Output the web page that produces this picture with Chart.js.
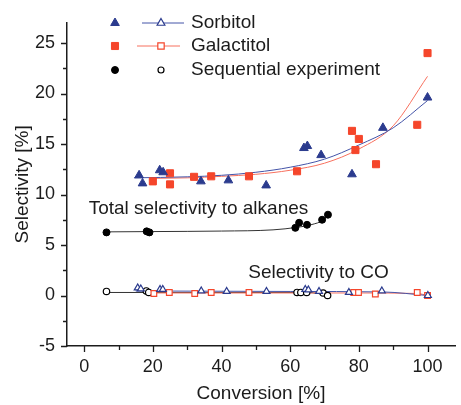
<!DOCTYPE html>
<html>
<head>
<meta charset="utf-8">
<script src="https://cdn.jsdelivr.net/npm/chart.js@4/dist/chart.umd.min.js"></script>
<style>
  body { margin: 0; background: #fff; }
  canvas { display: block; }
</style>
</head>
<body>
<canvas id="sel-chart" width="461" height="405"></canvas>
<script>
// alkanes selectivity (filled markers)
const sorbX = [16, 17, 22, 23, 34, 42, 53, 64, 65, 69, 78, 87, 100];
const sorbY = [11.9, 11.1, 12.4, 12.2, 11.3, 11.4, 10.9, 14.6, 14.8, 13.9, 12.0, 16.6, 19.6];
const galX = [20, 25, 25, 32, 37, 48, 62, 78, 79, 80, 85, 97, 100];
const galY = [11.3, 11.0, 12.1, 11.75, 11.8, 11.8, 12.3, 16.3, 14.4, 15.5, 13.0, 16.9, 24.0];
const seqX = [6.5, 18.2, 19.0, 61.5, 62.6, 64.9, 69.3, 71.0];
const seqY = [6.25, 6.35, 6.25, 6.7, 7.2, 7.0, 7.5, 8.0];

// CO selectivity (open markers)
const sorbCoX = [15.6, 16.5, 22.1, 22.9, 34.1, 41.5, 53.1, 64.4, 65.3, 68.4, 77.1, 86.7, 100.1];
const sorbCoY = [0.75, 0.65, 0.6, 0.6, 0.45, 0.4, 0.4, 0.6, 0.55, 0.4, 0.3, 0.45, 0.0];
const galCoX = [20.3, 24.8, 32.2, 37.0, 48.0, 78.5, 79.9, 84.8, 97.0, 100.0];
const galCoY = [0.2, 0.3, 0.2, 0.3, 0.3, 0.3, 0.3, 0.15, 0.3, 0.0];
const seqCoX = [6.5, 18.1, 18.8, 62.0, 63.1, 64.8, 69.6, 70.9];
const seqCoY = [0.4, 0.45, 0.3, 0.3, 0.3, 0.3, 0.25, 0.0];

// fit curves
const sorbFitX = [14.5, 30, 40, 50, 60, 70, 80, 90, 100];
const sorbFitY = [11.65, 11.75, 11.9, 12.2, 12.7, 13.5, 14.9, 16.6, 19.3];
const galFitX = [20, 30, 40, 50, 60, 70, 80, 90, 100];
const galFitY = [11.6, 11.65, 11.8, 12.0, 12.4, 13.1, 14.5, 16.8, 21.7];
const seqFitX = [6.5, 20, 40, 55, 62, 66, 70, 71.1];
const seqFitY = [6.3, 6.33, 6.38, 6.5, 6.75, 7.0, 7.55, 8.0];
const sorbCoFitX = [15, 60, 87, 100];
const sorbCoFitY = [0.45, 0.4, 0.35, 0.0];
const galCoFitX = [20, 80, 97, 100];
const galCoFitY = [0.25, 0.25, 0.2, 0.0];
const seqCoFitX = [6.5, 65, 71];
const seqCoFitY = [0.3, 0.3, 0.05];

const xMajor = [0, 20, 40, 60, 80, 100];
const xMinor = [10, 30, 50, 70, 90];
const yMajor = [-5, 0, 5, 10, 15, 20, 25];
const yMinor = [-2.5, 2.5, 7.5, 12.5, 17.5, 22.5];

const legendLabels = ["Sorbitol", "Galactitol", "Sequential experiment"];
const notes = ["Total selectivity to alkanes", "Selectivity to CO"];

const BLUE = '#2b3b8e';
const RED = '#f5462b';
const BLUE_LINE = '#4454a8';
const RED_LINE = '#f7705e';
const INK = '#1c1c1c';
const FONT = "'Liberation Sans', Arial, sans-serif";

const pts = (xs, ys) => xs.map((x, i) => ({ x: x, y: ys[i] }));

function markers(label, xs, ys, style, r, fill, stroke, bw) {
    return {
        label: label, data: pts(xs, ys), showLine: false, order: 1,
        pointStyle: style, pointRadius: r, pointBackgroundColor: fill,
        pointBorderColor: stroke, pointBorderWidth: bw
    };
}
function curve(xs, ys, color) {
    return {
        data: pts(xs, ys), showLine: true, order: 2, pointRadius: 0,
        borderColor: color, borderWidth: 1, cubicInterpolationMode: 'monotone'
    };
}

const extras = {
    id: 'extras',
    afterDraw(chart) {
        const ctx = chart.ctx;
        const xs = chart.scales.x, ys = chart.scales.y;
        const area = chart.chartArea;
        ctx.save();
        // tick marks, outward
        ctx.strokeStyle = INK;
        ctx.lineWidth = 1.3;
        ctx.beginPath();
        xMajor.concat(xMinor).forEach(v => {
            const p = Math.round(xs.getPixelForValue(v)) + 0.5;
            const len = xMajor.includes(v) ? 6 : 4;
            ctx.moveTo(p, area.bottom); ctx.lineTo(p, area.bottom + len);
        });
        yMajor.concat(yMinor).forEach(v => {
            const p = Math.round(ys.getPixelForValue(v)) + 0.5;
            const len = yMajor.includes(v) ? 6 : 4;
            ctx.moveTo(area.left, p); ctx.lineTo(area.left - len, p);
        });
        ctx.stroke();

        // annotations
        ctx.fillStyle = INK;
        ctx.font = '19px ' + FONT;
        ctx.textBaseline = 'middle';
        ctx.textAlign = 'left';
        ctx.fillText(notes[0], xs.getPixelForValue(1.3), ys.getPixelForValue(8.55));
        ctx.fillText(notes[1], xs.getPixelForValue(47.8), ys.getPixelForValue(2.3));

        // legend
        const draw = Chart.helpers.drawPoint;
        const rows = [
            { y: 23, style: 'triangle', color: BLUE, line: BLUE_LINE, r: 5, ro: 4.5, l0: 142, l1: 184 },
            { y: 46, style: 'rect', color: RED, line: RED_LINE, r: 5, ro: 4.5, l0: 137, l1: 180 },
            { y: 70, style: 'circle', color: '#000', line: null, r: 3.5, ro: 3, l0: 0, l1: 0 }
        ];
        rows.forEach((row, i) => {
            if (row.line) {
                ctx.strokeStyle = row.line;
                ctx.lineWidth = 1;
                ctx.beginPath();
                ctx.moveTo(row.l0, row.y); ctx.lineTo(row.l1, row.y);
                ctx.stroke();
            }
            ctx.fillStyle = row.color;
            ctx.strokeStyle = row.color;
            ctx.lineWidth = 1;
            draw(ctx, { pointStyle: row.style, radius: row.r, rotation: 0, borderWidth: 1 }, 115, row.y);
            ctx.fillStyle = '#fff';
            ctx.lineWidth = 1.2;
            draw(ctx, { pointStyle: row.style, radius: row.ro, rotation: 0, borderWidth: 1.2 }, 161, row.y);
            ctx.fillStyle = INK;
            ctx.font = '19px ' + FONT;
            ctx.textAlign = 'left';
            ctx.textBaseline = 'middle';
            ctx.fillText(legendLabels[i], 191, row.y);
        });
        ctx.restore();
    }
};

new Chart(document.getElementById('sel-chart').getContext('2d'), {
    type: 'scatter',
    data: {
        datasets: [
            markers('Sorbitol', sorbX, sorbY, 'triangle', 5, BLUE, BLUE, 1),
            markers('Galactitol', galX, galY, 'rect', 5, RED, RED, 1),
            markers('Sequential experiment', seqX, seqY, 'circle', 3.5, '#000', '#000', 1),
            markers('Sorbitol CO', sorbCoX, sorbCoY, 'triangle', 4, '#fff', BLUE, 1.2),
            markers('Galactitol CO', galCoX, galCoY, 'rect', 4, '#fff', RED, 1.2),
            markers('Sequential CO', seqCoX, seqCoY, 'circle', 3.2, '#fff', '#000', 1.2),
            curve(sorbFitX, sorbFitY, BLUE_LINE),
            curve(galFitX, galFitY, RED_LINE),
            curve(seqFitX, seqFitY, '#333'),
            curve(sorbCoFitX, sorbCoFitY, BLUE_LINE),
            curve(galCoFitX, galCoFitY, RED_LINE),
            curve(seqCoFitX, seqCoFitY, '#333')
        ]
    },
    options: {
        responsive: false,
        animation: false,
        layout: { padding: { top: 19, right: 1, left: 0, bottom: 0 } },
        plugins: { legend: { display: false }, tooltip: { enabled: false } },
        scales: {
            x: {
                type: 'linear', min: -5, max: 108,
                afterBuildTicks: s => { s.ticks = xMajor.map(v => ({ value: v })); },
                afterFit: s => { s.height = 59; },
                grid: { display: true, drawOnChartArea: false, drawTicks: false },
                border: { display: true, color: INK, width: 1.5 },
                ticks: { padding: 10, color: INK, font: { family: FONT, size: 18 }, maxRotation: 0 },
                title: { display: true, text: 'Conversion [%]', color: INK, padding: { top: 0, bottom: 0 }, font: { family: FONT, size: 19 } }
            },
            y: {
                type: 'linear', min: -5, max: 27,
                afterBuildTicks: s => { s.ticks = yMajor.map(v => ({ value: v })); },
                afterFit: s => { s.width = 67; },
                grid: { display: true, drawOnChartArea: false, drawTicks: false },
                border: { display: true, color: INK, width: 1.5 },
                ticks: { padding: 12, color: INK, font: { family: FONT, size: 18 } },
                title: { display: true, text: 'Selectivity [%]', color: INK, padding: { top: 11, bottom: 0 }, font: { family: FONT, size: 19 } }
            }
        }
    },
    plugins: [extras]
});
</script>
</body>
</html>
